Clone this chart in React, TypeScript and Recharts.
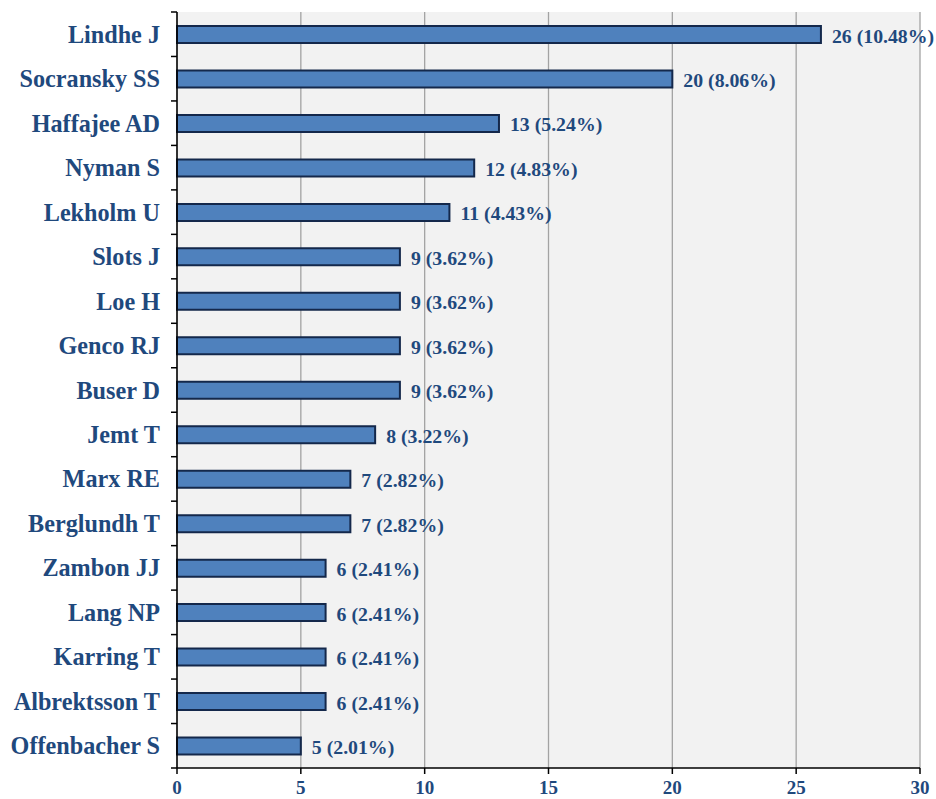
import React from "react";
import { BarChart, Bar, XAxis, YAxis, CartesianGrid, LabelList } from "recharts";

const authors = [
  "Lindhe J",
  "Socransky SS",
  "Haffajee AD",
  "Nyman S",
  "Lekholm U",
  "Slots J",
  "Loe H",
  "Genco RJ",
  "Buser D",
  "Jemt T",
  "Marx RE",
  "Berglundh T",
  "Zambon JJ",
  "Lang NP",
  "Karring T",
  "Albrektsson T",
  "Offenbacher S",
];
const counts = [26, 20, 13, 12, 11, 9, 9, 9, 9, 8, 7, 7, 6, 6, 6, 6, 5];
const percents = [
  "10.48", "8.06", "5.24", "4.83", "4.43", "3.62", "3.62", "3.62", "3.62",
  "3.22", "2.82", "2.82", "2.41", "2.41", "2.41", "2.41", "2.01",
];
const xTicks = [0, 5, 10, 15, 20, 25, 30];

const data = authors.map((name, i) => ({
  name,
  value: counts[i],
  label: `${counts[i]} (${percents[i]}%)`,
}));

const TEXT = "#1f497d";
const FONT = "'Liberation Serif', 'Times New Roman', serif";

const YTick = (props: any) => {
  const { x, y, payload, index } = props;
  const half = payload && typeof payload.offset === "number" && payload.offset > 0 ? payload.offset : 22.24;
  const last = index === authors.length - 1;
  return (
    <g>
      <line x1={x - 6} x2={x} y1={y - half} y2={y - half} stroke="#000" strokeWidth={1.5} />
      {last && <line x1={x - 6} x2={x} y1={y + half} y2={y + half} stroke="#000" strokeWidth={1.5} />}
      <text
        x={x - 17}
        y={y}
        textAnchor="end"
        dominantBaseline="central"
        fill={TEXT}
        fontFamily={FONT}
        fontWeight="bold"
        fontSize={24.2}
      >
        {payload.value}
      </text>
    </g>
  );
};

const ValueLabel = (props: any) => {
  const { x, y, width, height, value } = props;
  return (
    <text
      x={x + width + 11}
      y={y + height / 2 + 1}
      dominantBaseline="central"
      fill={TEXT}
      fontFamily={FONT}
      fontWeight="bold"
      fontSize={19.8}
    >
      {value}
    </text>
  );
};

export default function App() {
  return (
    <div style={{ position: "absolute", left: 0, top: 0, width: 936, height: 799, background: "#fff" }}>
      <BarChart
        width={936}
        height={799}
        data={data}
        layout="vertical"
        margin={{ top: 12, right: 16, bottom: 0, left: 0 }}
      >
        <CartesianGrid horizontal={false} stroke="#a3a3a3" strokeWidth={1.3} fill="#f2f2f2" />
        <XAxis
          type="number"
          domain={[0, 30]}
          ticks={xTicks}
          interval={0}
          height={31}
          axisLine={{ stroke: "#000", strokeWidth: 1.5 }}
          tickLine={{ stroke: "#000", strokeWidth: 1.5 }}
          tickSize={6}
          tickMargin={7}
          tick={{ fill: TEXT, fontFamily: FONT, fontWeight: "bold", fontSize: 19 }}
        />
        <YAxis
          type="category"
          dataKey="name"
          width={177}
          interval={0}
          axisLine={{ stroke: "#000", strokeWidth: 1.5 }}
          tickLine={false}
          tickSize={0}
          tickMargin={0}
          tick={<YTick />}
        />
        <Bar dataKey="value" fill="#4f81bd" stroke="#14284b" strokeWidth={2} barSize={17} isAnimationActive={false}>
          <LabelList dataKey="label" content={<ValueLabel />} />
        </Bar>
      </BarChart>
    </div>
  );
}
